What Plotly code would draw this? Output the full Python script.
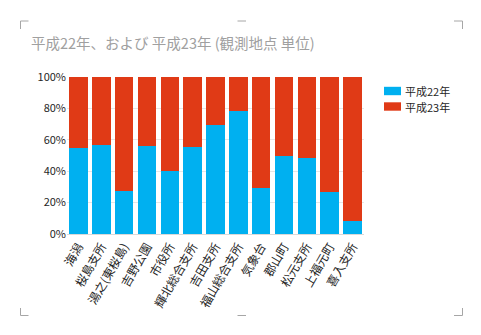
import plotly.graph_objects as go

categories = ["海潟", "桜島支所", "湯之(東桜島)", "吉野公園", "市役所", "輝北総合支所", "吉田支所",
              "福山総合支所", "気象台", "郡山町", "松元支所", "上福元町", "喜入支所"]
series_names = ["平成22年", "平成23年"]
h22_values = [54.8, 56.9, 27.4, 56.0, 40.3, 55.4, 69.2, 78.1, 29.5, 49.6, 48.6, 26.9, 8.5]
h23_values = [45.2, 43.1, 72.6, 44.0, 59.7, 44.6, 30.8, 21.9, 70.5, 50.4, 51.4, 73.1, 91.5]
y_ticks = [0, 20, 40, 60, 80, 100]
y_tick_labels = ["0%", "20%", "40%", "60%", "80%", "100%"]
colors = ["#00B0F0", "#E03A16"]
title_text = "平成22年、および 平成23年 (観測地点 単位)"

FONT = "Noto Sans CJK JP, Noto Sans, sans-serif"
W, H = 481, 335
L, R, T, B = 67, 117, 77, 101
PW, PH = W - L - R, H - T - B

def px(x):
    return (x - L) / PW

def py(y):
    return (H - B - y) / PH

fig = go.Figure()
for name, vals, col in zip(series_names, [h22_values, h23_values], colors):
    fig.add_trace(go.Bar(x=categories, y=vals, name=name, marker=dict(color=col, line=dict(width=0)),
                         showlegend=False))

shapes = []
annotations = []
# custom legend
for i, (name, col) in enumerate(zip(series_names, colors)):
    yc = 91 + i * 15.5
    shapes.append(dict(type="rect", xref="paper", yref="paper",
                       x0=px(384), x1=px(401), y0=py(yc - 4.2), y1=py(yc + 4.2),
                       fillcolor=col, line=dict(width=0)))
    annotations.append(dict(text=name, xref="paper", yref="paper", x=px(402.5), y=py(yc),
                            xanchor="left", yanchor="middle", showarrow=False,
                            font=dict(family=FONT, size=11, color="#262626")))

# frame corner marks
mark = "#A6A6A6"
def seg(x0, y0, x1, y1):
    shapes.append(dict(type="line", xref="paper", yref="paper", x0=px(x0), y0=py(y0),
                       x1=px(x1), y1=py(y1), line=dict(color=mark, width=1)))
seg(20.5, 21, 28.5, 21); seg(20.5, 21, 20.5, 29)
seg(454, 21, 462.5, 21); seg(462.5, 21, 462.5, 29)
seg(20.5, 315.5, 28.5, 315.5); seg(20.5, 315.5, 20.5, 308)
seg(454, 315.5, 462.5, 315.5); seg(462.5, 315.5, 462.5, 308)
seg(237.5, 21, 246, 21)
seg(237.5, 315.5, 246, 315.5)

fig.update_layout(
    width=W, height=H,
    margin=dict(l=L, r=R, t=T, b=B),
    barmode="stack", bargap=0.19,
    paper_bgcolor="white", plot_bgcolor="white",
    font=dict(family=FONT, size=11, color="#404040"),
    title=dict(text=title_text, x=31 / W, xanchor="left", xref="container",
               y=1 - 43.5 / H, yanchor="middle", yref="container",
               font=dict(family=FONT, size=14.5, color="#A0A0A0")),
    xaxis=dict(type="category", tickangle=-60, showgrid=False, ticks="", showline=True,
               linecolor="#D9D9D9", linewidth=1, tickfont=dict(size=12, color="#262626")),
    yaxis=dict(range=[0, 100], tickvals=y_ticks, ticktext=y_tick_labels, showgrid=True,
               gridcolor="#E6E6E6", gridwidth=1, zeroline=False, ticks="",
               tickfont=dict(size=11, color="#262626")),
    shapes=shapes, annotations=annotations,
)

fig.write_html("out.html")
